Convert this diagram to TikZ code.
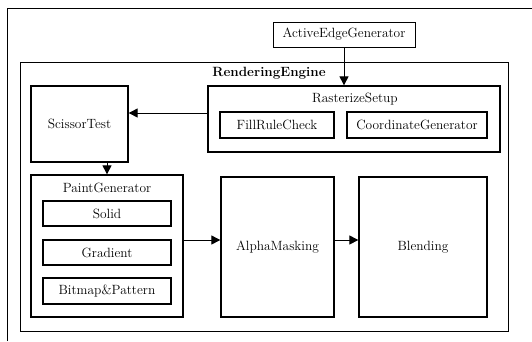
\documentclass[tikz,border=0pt]{standalone}
\usepackage{tikz}
\usetikzlibrary{arrows.meta}

\tikzset{
  thinbox/.style={draw,line width=0.6pt,inner sep=0pt},
  thickbox/.style={draw,line width=1.3pt,inner sep=0pt},
  flow/.style={line width=1pt,-{Triangle[length=9pt,width=9pt]}}
}

\begin{document}
\begin{tikzpicture}[x=1pt,y=-1pt,font=\fontsize{13.4}{15}\selectfont]
	\useasboundingbox (0,0) rectangle (532,341);
	% outer frame
	\draw[line width=0.6pt] (7,341) -- (7,8) -- (532,8);

	\node (aeg) [thinbox,minimum width=142pt,minimum height=25pt] at (344,34.5) {ActiveEdgeGenerator};

	% rendering engine
	\node (engine) [thinbox,minimum width=488pt,minimum height=269pt] at (264,196.5) {};
	\node (enginelbl) at (269,73) {\bfseries RenderingEngine};

	\node (raster) [thickbox,minimum width=292pt,minimum height=66pt] at (354,119) {};
	\node (rasterlbl) at (355,99) {RasterizeSetup};
	\node (fill) [thickbox,minimum width=114pt,minimum height=26pt] at (277,125) {FillRuleCheck};
	\node (coord) [thickbox,minimum width=140pt,minimum height=26pt] at (417,125) {CoordinateGenerator};

	\node (scissor) [thickbox,minimum width=97pt,minimum height=76pt] at (79.5,124) {ScissorTest};

	\node (paint) [thickbox,minimum width=152pt,minimum height=142pt] at (107,246) {};
	\node (paintlbl) at (107,188) {PaintGenerator};
	\node (solid) [thickbox,minimum width=128pt,minimum height=25pt] at (107,213.5) {Solid};
	\node (grad) [thickbox,minimum width=128pt,minimum height=25pt] at (107,252.5) {Gradient};
	\node (bitmap) [thickbox,minimum width=128pt,minimum height=26pt] at (107,291) {Bitmap\&Pattern};

	\node (alpha) [thickbox,minimum width=113pt,minimum height=140pt] at (277.5,247) {AlphaMasking};
	\node (blend) [thickbox,minimum width=128pt,minimum height=140pt] at (423,247) {Blending};

	% connectors
	\draw[flow] (aeg.south) -- (aeg.south |- raster.north);
	\draw[flow] (raster.west |- 0,113) -- (scissor.east |- 0,113);
	\draw[flow] (scissor.south -| 107,0) -- (paint.north -| 107,0);
	\draw[flow] (paint.east |- 0,240) -- (alpha.west |- 0,240);
	\draw[flow] (alpha.east |- 0,240) -- (blend.west |- 0,240);
\end{tikzpicture}
\end{document}
